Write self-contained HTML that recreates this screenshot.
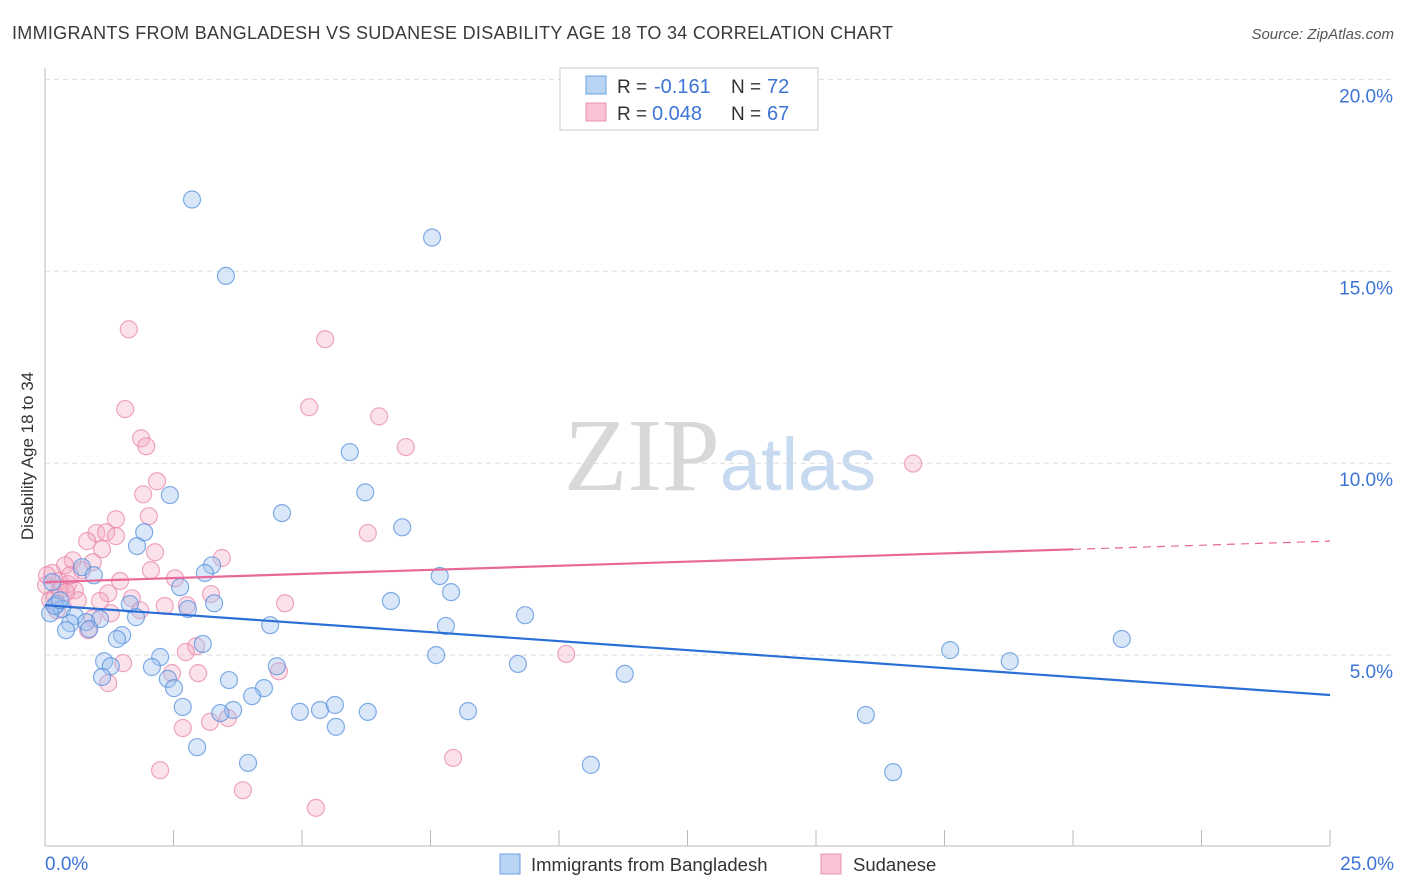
<!DOCTYPE html>
<html><head><meta charset="utf-8"><style>
body{margin:0;background:#fff;font-family:"Liberation Sans",sans-serif}
svg{display:block}
</style></head><body>
<svg id="chart" width="1406" height="892" viewBox="0 0 1406 892" xmlns="http://www.w3.org/2000/svg">
<text x="12" y="39" font-size="18" fill="#3a3a3a" textLength="881">IMMIGRANTS FROM BANGLADESH VS SUDANESE DISABILITY AGE 18 TO 34 CORRELATION CHART</text>
<text x="1394" y="39" font-size="15" fill="#555" text-anchor="end" font-style="italic">Source: ZipAtlas.com</text>
<text x="720" y="490" font-size="104" text-anchor="middle" fill="#d8d8d8" font-family="Liberation Serif,serif">ZIP<tspan fill="#c8daf0" font-family="Liberation Sans,sans-serif" font-size="74">atlas</tspan></text>
<g id="grid"></g>
<g id="axes"></g>
<g id="points"></g>
<g id="lines"></g>
<text transform="translate(33,456) rotate(-90)" font-size="17" fill="#333" text-anchor="middle">Disability Age 18 to 34</text>
<g>
<rect x="560" y="68" width="258" height="62" fill="#fff" stroke="#ccc"/>
<rect x="586" y="76" width="20" height="18" fill="#b8d4f4" stroke="#6a9fe0"/>
<rect x="586" y="103" width="20" height="18" fill="#f8c4d4" stroke="#e890b0"/>
<text x="617" y="93" font-size="19" fill="#333">R =</text>
<text x="654" y="93" font-size="20" fill="#3d74d6">-0.161</text>
<text x="731" y="93" font-size="19" fill="#333">N =</text>
<text x="767" y="93" font-size="20" fill="#3d74d6">72</text>
<text x="617" y="120" font-size="19" fill="#333">R =</text>
<text x="652" y="120" font-size="20" fill="#3d74d6">0.048</text>
<text x="731" y="120" font-size="19" fill="#333">N =</text>
<text x="767" y="120" font-size="20" fill="#3d74d6">67</text>
</g>
<g>
<rect x="500" y="854" width="20" height="20" fill="#b8d4f4" stroke="#6a9fe0"/>
<text x="531" y="871" font-size="18.5" fill="#333">Immigrants from Bangladesh</text>
<rect x="821" y="854" width="20" height="20" fill="#f8c4d4" stroke="#e890b0"/>
<text x="853" y="871" font-size="18.5" fill="#333">Sudanese</text>
</g>
</svg>
<script>
const yTicks=[5,10,15,20];
const xTickLabels=["0.0%","25.0%"];
const blueX=[2.86,7.53,3.52,5.93,6.23,2.43,4.61,6.95,1.93,1.79,3.25,3.11,7.68,0.72,0.95,2.63,7.9,0.14,6.73,3.29,2.78,1.65,0.23,0.33,0.1,9.34,0.58,1.07,0.8,0.49,1.77,4.38,7.8,0.86,0.41,1.5,1.4,3.07,20.95,17.61,18.77,1.15,2.24,2.08,1.28,4.51,9.2,7.61,11.28,1.11,2.39,3.58,2.51,4.26,4.03,2.68,3.66,4.96,5.35,5.64,6.28,8.23,3.41,15.97,5.66,2.96,3.95,10.62,16.5,0.19,0.29];
const blueY=[16.87,15.88,14.88,10.29,9.24,9.17,8.7,8.33,8.2,7.84,7.34,7.14,7.06,7.29,7.08,6.77,6.64,6.9,6.41,6.35,6.2,6.33,6.33,6.2,6.09,6.04,6.02,5.94,5.86,5.83,5.99,5.78,5.76,5.68,5.65,5.52,5.42,5.29,5.42,5.13,4.84,4.84,4.95,4.69,4.71,4.71,4.77,5.0,4.51,4.43,4.38,4.35,4.14,4.14,3.93,3.65,3.57,3.52,3.57,3.7,3.52,3.54,3.49,3.44,3.13,2.6,2.19,2.14,1.95,6.28,6.43];
const pinkX=[1.63,5.45,5.14,1.56,6.5,1.87,1.97,7.02,16.89,2.18,1.91,2.02,1.38,6.28,1.0,1.19,1.38,0.82,1.11,2.14,3.44,0.54,0.93,0.39,2.06,0.72,0.14,2.53,1.46,0.27,0.02,0.45,0.58,1.23,3.23,1.69,1.07,4.67,0.19,0.1,2.76,2.33,1.85,1.28,0.93,0.84,2.94,2.74,10.14,2.47,4.55,2.98,1.52,1.23,3.21,3.56,2.68,7.94,2.24,3.85,5.27,0.29,0.04,0.49,0.64,0.23,0.41];
const pinkY=[13.49,13.23,11.46,11.41,11.22,10.65,10.44,10.42,9.99,9.53,9.19,8.62,8.54,8.18,8.18,8.2,8.1,7.97,7.76,7.68,7.53,7.47,7.42,7.34,7.21,7.21,7.14,7.0,6.93,6.93,6.82,6.85,6.69,6.61,6.59,6.48,6.41,6.35,6.51,6.43,6.3,6.28,6.17,6.09,5.96,5.65,5.23,5.08,5.03,4.53,4.58,4.53,4.79,4.27,3.26,3.36,3.1,2.32,2.0,1.48,1.02,6.69,7.08,7.08,6.43,6.17,6.64];
const blueFit=[6.3,3.96];
const pinkFit=[6.9,7.97];
const NS="http://www.w3.org/2000/svg";
const xs=v=>45+v*51.4;
const ys=v=>847-v*38.38;
function mk(t,a,p){const e=document.createElementNS(NS,t);for(const k in a)e.setAttribute(k,a[k]);p.appendChild(e);return e;}
const grid=document.getElementById('grid'),axes=document.getElementById('axes');
yTicks.forEach(t=>{
 const l=mk('line',{x1:45,x2:1394,y1:ys(t),y2:ys(t),stroke:'#ddd','stroke-dasharray':'5,4'},grid);
 
 
 const tx=mk('text',{x:1393,y:ys(t)+23,'font-size':19,fill:'#3d74d6','text-anchor':'end'},axes);
 tx.textContent=t.toFixed(1)+'%';
 
 
});
const xl=mk('line',{x1:45,x2:1330,y1:846,y2:846,stroke:'#bbb'},axes);


const yl=mk('line',{x1:45,x2:45,y1:68,y2:846,stroke:'#bbb'},axes);


for(let i=0;i<=10;i++){const tk=mk('line',{x1:xs(i*2.5),x2:xs(i*2.5),y1:830,y2:846,stroke:'#bbb'},axes);
 
 }
const l0=mk('text',{x:45,y:870,'font-size':19,fill:'#3d74d6'},axes);l0.textContent=xTickLabels[0];


const l1=mk('text',{x:1394,y:870,'font-size':19,fill:'#3d74d6','text-anchor':'end'},axes);l1.textContent=xTickLabels[1];


const pts=document.getElementById('points');
pinkX.forEach((x,i)=>{const c=mk('circle',{cx:xs(x),cy:ys(pinkY[i]),r:8.5,fill:'rgba(244,170,196,0.35)',stroke:'rgba(232,130,166,0.7)','stroke-width':1.2},pts);
 
 });
blueX.forEach((x,i)=>{const c=mk('circle',{cx:xs(x),cy:ys(blueY[i]),r:8.5,fill:'rgba(160,196,240,0.4)',stroke:'rgba(80,140,220,0.7)','stroke-width':1.2},pts);
 
 });
const ln=document.getElementById('lines');
const b=mk('line',{x1:xs(0),y1:ys(blueFit[0]),x2:xs(25),y2:ys(blueFit[1]),stroke:'#2a6fd6','stroke-width':2.2},ln);


const pm=pinkFit[0]+(pinkFit[1]-pinkFit[0])*0.8;
const p=mk('line',{x1:xs(0),y1:ys(pinkFit[0]),x2:xs(20),y2:ys(pm),stroke:'#e8689a','stroke-width':2.2},ln);


const pd=mk('line',{x1:xs(20),y1:ys(pm),x2:xs(25),y2:ys(pinkFit[1]),stroke:'#e8689a','stroke-width':1.2,'stroke-dasharray':'8,6'},ln);


</script>
</body></html>
